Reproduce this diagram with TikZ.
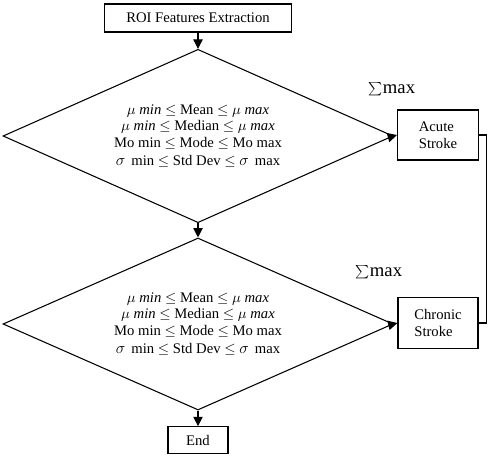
\documentclass[tikz,border=0pt]{standalone}
\usepackage{fontspec}
\setmainfont{Liberation Serif}
\usetikzlibrary{shapes.geometric, arrows.meta}

\tikzset{
  flowbox/.style={draw, thick, rectangle, inner sep=0pt, align=center, font=\fontsize{11}{12.5}\selectfont},
  decision/.style={draw, thick, diamond, aspect=2.23, inner sep=0pt, align=center, minimum width=292.5pt, minimum height=130pt, font=\fontsize{11}{12.4}\selectfont},
  flowarrow/.style={thick, -{Triangle[length=7pt, width=7pt]}},
  sumlabel/.style={font=\fontsize{14}{16}\selectfont, inner sep=0pt}
}

\newcommand{\RangeText}{%
$\mu$ \textit{min} $\leq$ Mean $\leq$ $\mu$ \textit{max}\\
$\mu$ \textit{min} $\leq$ Median $\leq$ $\mu$ \textit{max}\\
Mo min $\leq$ Mode $\leq$ Mo max\\[1pt]
{\large$\sigma$}\, min $\leq$ Std Dev $\leq$ {\large$\sigma$}\, max}

\begin{document}
\begin{tikzpicture}[x=0.75pt, y=-0.75pt]
\useasboundingbox (0,0) rectangle (489,464);

% boxes and decisions
\node[flowbox, minimum width=140pt, minimum height=21pt] (roi) at (198,18) {ROI Features Extraction};
\node[decision] (dec1) at (198,136) {\RangeText};
\node[flowbox, align=left, minimum width=60.75pt, minimum height=37.5pt] (acute) at (438,135) {Acute\\Stroke};
\node[decision, minimum height=129pt] (dec2) at (198,324) {\RangeText};
\node[flowbox, align=left, minimum width=60pt, minimum height=38pt] (chronic) at (438,323) {Chronic\\Stroke};
\node[flowbox, minimum width=45pt, minimum height=20pt] (endbox) at (198,440) {End};

% sum labels
\node[sumlabel] (sum1) at (392,89) {$\sum$max};
\node[sumlabel] (sum2) at (379,272) {$\sum$max};

% arrows
\draw[flowarrow] (roi) -- (dec1);
\draw[flowarrow] (dec1) -- (dec2);
\draw[flowarrow] (dec1.east) -- (acute.west);
\draw[flowarrow] (dec2.east) -- (chronic.west);
\draw[flowarrow] (dec2) -- (endbox);

% link between the two stroke boxes
\draw[thick] (acute.east) -- ++(7,0) |- (chronic.east);

\end{tikzpicture}
\end{document}
